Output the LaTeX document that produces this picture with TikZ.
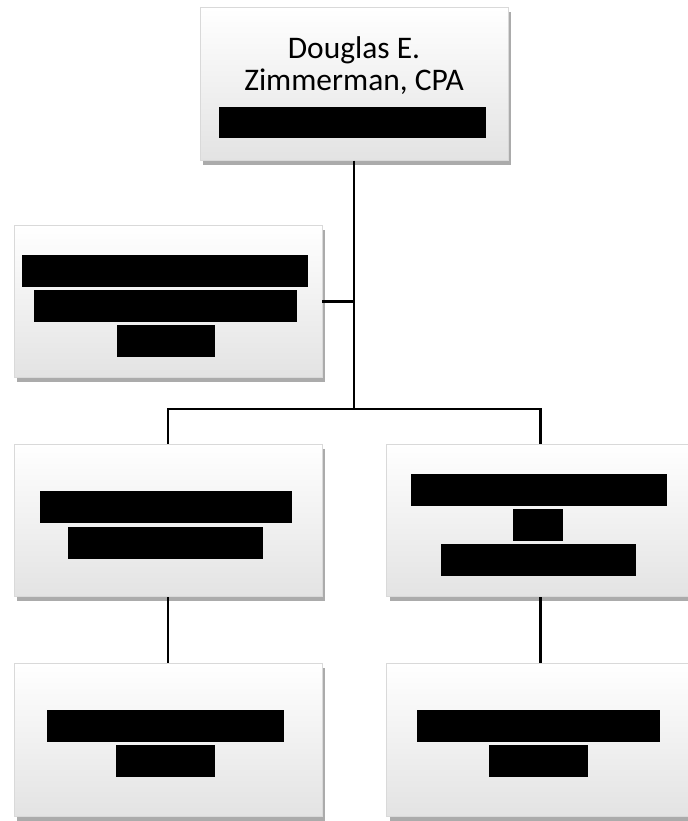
\documentclass[tikz,border=0pt]{standalone}
\usepackage{fontspec}
\setmainfont{Carlito}
\usepackage{tikz}
\usetikzlibrary{shapes,positioning,shadows}
\tikzset{
  basic/.style  = {draw=black!15, rectangle, minimum width=6.16cm, minimum height=3.05cm,
                   top color=white, middle color=white, bottom color=black!11,
                   drop shadow={shadow xshift=0.6mm, shadow yshift=-0.9mm, fill=black!60, opacity=0.55}},
  chief/.style  = {basic},
  unit/.style   = {basic},
  bar/.style    = {fill=black, inner sep=0pt, minimum height=0.64cm},
  link/.style   = {draw, line width=1.2pt}
}

\begin{document}
\begin{tikzpicture}[x=0.02cm, y=-0.02cm]

\useasboundingbox (0,0) rectangle (688,821);

% the boxes
\node[chief] (boss) at (354,84) {};
\node[unit]  (aide) at (168,301.5) {};
\node[unit]  (ml)   at (168,520.5) {};
\node[unit]  (mr)   at (540.5,520.5) {};
\node[unit]  (bl)   at (168,740) {};
\node[unit]  (br)   at (540.5,740) {};

% name on top
\node[align=center, inner sep=0pt, anchor=north, font=\fontsize{17.9}{18.2}\selectfont]
  (name) at (354,36) {Douglas E.\\Zimmerman, CPA};

% redacted lines
\node[bar, minimum width=5.34cm] (b0)  at (352.5,122.5) {};
\node[bar, minimum width=5.72cm] (b11) at (165,271) {};
\node[bar, minimum width=5.26cm] (b12) at (165.5,306) {};
\node[bar, minimum width=1.96cm] (b13) at (166,341) {};
\node[bar, minimum width=5.04cm] (b21) at (166,507) {};
\node[bar, minimum width=3.90cm] (b22) at (165.5,543) {};
\node[bar, minimum width=5.12cm] (b31) at (539,489.5) {};
\node[bar, minimum width=1.00cm] (b32) at (538,524.5) {};
\node[bar, minimum width=3.90cm] (b33) at (538.5,560) {};
\node[bar, minimum width=4.74cm] (b41) at (165.5,726) {};
\node[bar, minimum width=1.98cm] (b42) at (165.5,761) {};
\node[bar, minimum width=4.86cm] (b51) at (538.5,726) {};
\node[bar, minimum width=1.98cm] (b52) at (538.5,761) {};

% lines between the boxes
\coordinate (hub) at (354,409);
\draw[link] (boss.south) -- (hub);
\draw[link] (aide.east) -- (aide.east -| boss.south);

\foreach \value in {ml,mr}
  \draw[link] (hub) -| (\value.north);

\draw[link] (ml.south) -- (bl.north);
\draw[link] (mr.south) -- (br.north);

\end{tikzpicture}
\end{document}
